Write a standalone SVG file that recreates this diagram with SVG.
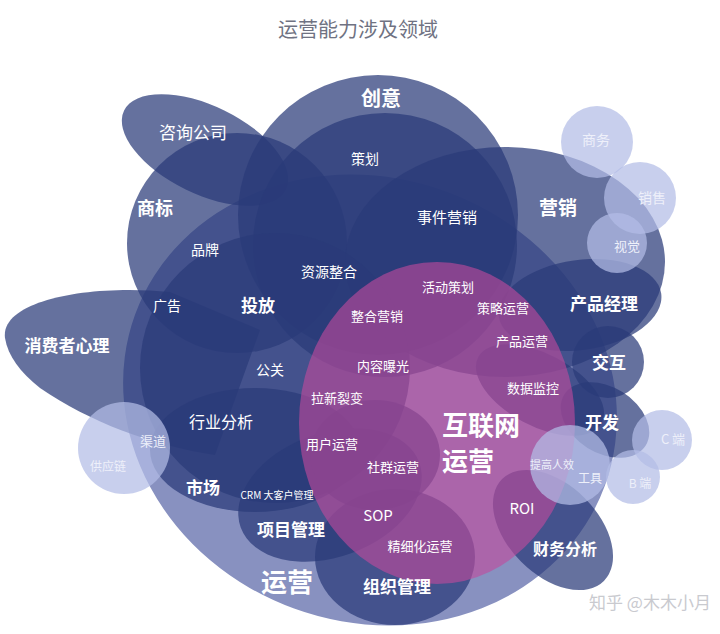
<svg xmlns="http://www.w3.org/2000/svg" width="720" height="634" viewBox="0 0 720 634">
<style>
.n{fill:#2a3a78;fill-opacity:0.72}
.l{fill:#b3bde6;fill-opacity:0.72}
.m{fill:#c04a9c;fill-opacity:0.62}
text{font-family:"Noto Sans CJK SC","Noto Sans",sans-serif;fill:#fff;text-anchor:middle;font-weight:700}
.t{font-weight:400}
.lt{fill:#eef0fa;font-weight:400}
</style>
<rect width="720" height="634" fill="#fff"/>
<text x="358" y="37" style="fill:#6f7282;font-size:20px;font-weight:400">运营能力涉及领域</text>
<g id="yunying"><ellipse cx="370" cy="400" rx="250" ry="222" transform="rotate(20 370 400)" fill="#8891c0"/></g>
<g id="xiaofeizhe"><path class="n" d="M5,338 C0,300 90,284 170,292 L260,330 L215,455 C150,445 90,422 40,388 C20,372 8,356 5,338 Z"/></g>
<g id="zixun"><ellipse class="n" cx="205" cy="150" rx="90" ry="44" transform="rotate(26 205 150)"/></g>
<g id="shangbiao"><circle class="n" cx="237" cy="243" r="110"/></g>
<g id="chuangyi"><circle class="n" cx="378" cy="215" r="140"/></g>
<g id="cehua"><circle class="n" cx="385" cy="245" r="132"/></g>
<g id="yingxiao"><ellipse class="n" cx="505" cy="262" rx="160" ry="115"/></g>
<g id="toufang"><circle class="n" cx="275" cy="368" r="135"/></g>
<g id="shichang"><ellipse class="n" cx="255" cy="450" rx="105" ry="62"/></g>
<g id="xiangmu"><ellipse class="n" cx="330" cy="495" rx="95" ry="62" transform="rotate(-20 330 495)"/></g>
<g id="zuzhi"><ellipse class="n" cx="395" cy="557" rx="80" ry="68"/></g>
<g id="shequn"><ellipse class="n" cx="375" cy="455" rx="65" ry="55"/></g>
<g id="chanpin"><ellipse class="n" cx="580" cy="305" rx="82" ry="45" transform="rotate(-8 580 305)"/></g>
<g id="shuju"><ellipse class="n" cx="540" cy="390" rx="70" ry="36" transform="rotate(28 540 390)"/></g>
<g id="jiaohu"><circle class="n" cx="608" cy="362" r="36"/></g>
<g id="kaifa"><ellipse class="n" cx="605" cy="420" rx="48" ry="33" transform="rotate(32 605 420)"/></g>
<g id="caiwu"><ellipse class="n" cx="553" cy="530" rx="72" ry="45" transform="rotate(45 553 530)"/></g>
<g id="hulianwang"><ellipse class="m" cx="437" cy="423" rx="138" ry="161"/></g>
<g id="shangwu"><circle class="l" cx="597" cy="142" r="36"/></g>
<g id="xiaoshou"><circle class="l" cx="640" cy="198" r="36"/></g>
<g id="shijue"><circle class="l" cx="617" cy="243" r="30"/></g>
<g id="cduan"><circle class="l" cx="662" cy="440" r="30"/></g>
<g id="bduan"><circle class="l" cx="633" cy="477" r="27"/></g>
<g id="gongju"><circle class="l" cx="570" cy="465" r="40"/></g>
<g id="qudao"><circle class="l" cx="124" cy="448" r="46"/></g>
<g id="labels">
<text x="381" y="106" style="font-size:20px">创意</text>
<text x="193" y="139" style="font-size:17px" class="t">咨询公司</text>
<text x="365" y="164" style="font-size:14px" class="t">策划</text>
<text x="155" y="215" style="font-size:18px">商标</text>
<text x="447" y="223" style="font-size:15px" class="t">事件营销</text>
<text x="558" y="215" style="font-size:19px">营销</text>
<text x="596" y="145" style="font-size:14px" class="lt">商务</text>
<text x="652" y="203" style="font-size:14px" class="lt">销售</text>
<text x="627" y="251" style="font-size:13px" class="lt">视觉</text>
<text x="205" y="255" style="font-size:14px" class="t">品牌</text>
<text x="329" y="277" style="font-size:14px" class="t">资源整合</text>
<text x="448" y="292" style="font-size:13px" class="t">活动策划</text>
<text x="503" y="313" style="font-size:13px" class="t">策略运营</text>
<text x="167" y="311" style="font-size:14px" class="t">广告</text>
<text x="258" y="312" style="font-size:17px">投放</text>
<text x="377" y="321" style="font-size:13px" class="t">整合营销</text>
<text x="604" y="310" style="font-size:17px">产品经理</text>
<text x="522" y="346" style="font-size:13px" class="t">产品运营</text>
<text x="67" y="352" style="font-size:17px">消费者心理</text>
<text x="383" y="371" style="font-size:13px" class="t">内容曝光</text>
<text x="270" y="375" style="font-size:14px" class="t">公关</text>
<text x="609" y="369" style="font-size:17px">交互</text>
<text x="533" y="393" style="font-size:13px" class="t">数据监控</text>
<text x="337" y="403" style="font-size:13px" class="t">拉新裂变</text>
<text x="221" y="428" style="font-size:16px" class="t">行业分析</text>
<text x="602" y="429" style="font-size:17px">开发</text>
<text x="442" y="435" style="font-size:26px;text-anchor:start">互联网</text>
<text x="442" y="471" style="font-size:26px;text-anchor:start">运营</text>
<text x="153" y="446" style="font-size:13px" class="lt">渠道</text>
<text x="332" y="449" style="font-size:13px" class="t">用户运营</text>
<text x="673" y="444" style="font-size:13px" class="lt">C 端</text>
<text x="108" y="471" style="font-size:12px" class="lt">供应链</text>
<text x="393" y="472" style="font-size:13px" class="t">社群运营</text>
<text x="552" y="469" style="font-size:11px" class="lt">提高人效</text>
<text x="590" y="483" style="font-size:12px" class="lt">工具</text>
<text x="640" y="488" style="font-size:12px" class="lt">B 端</text>
<text x="203" y="494" style="font-size:17px">市场</text>
<text x="277" y="499" style="font-size:10px" class="t">CRM 大客户管理</text>
<text x="378" y="521" style="font-size:15px" class="t">SOP</text>
<text x="522" y="514" style="font-size:15px" class="t">ROI</text>
<text x="291" y="536" style="font-size:17px">项目管理</text>
<text x="420" y="551" style="font-size:13px" class="t">精细化运营</text>
<text x="565" y="555" style="font-size:16px">财务分析</text>
<text x="287" y="592" style="font-size:26px">运营</text>
<text x="397" y="593" style="font-size:17px">组织管理</text>
<text x="650" y="609" style="font-size:17px;fill:#c9cacf;font-weight:400">知乎 @木木小月</text>
</g>
</svg>
